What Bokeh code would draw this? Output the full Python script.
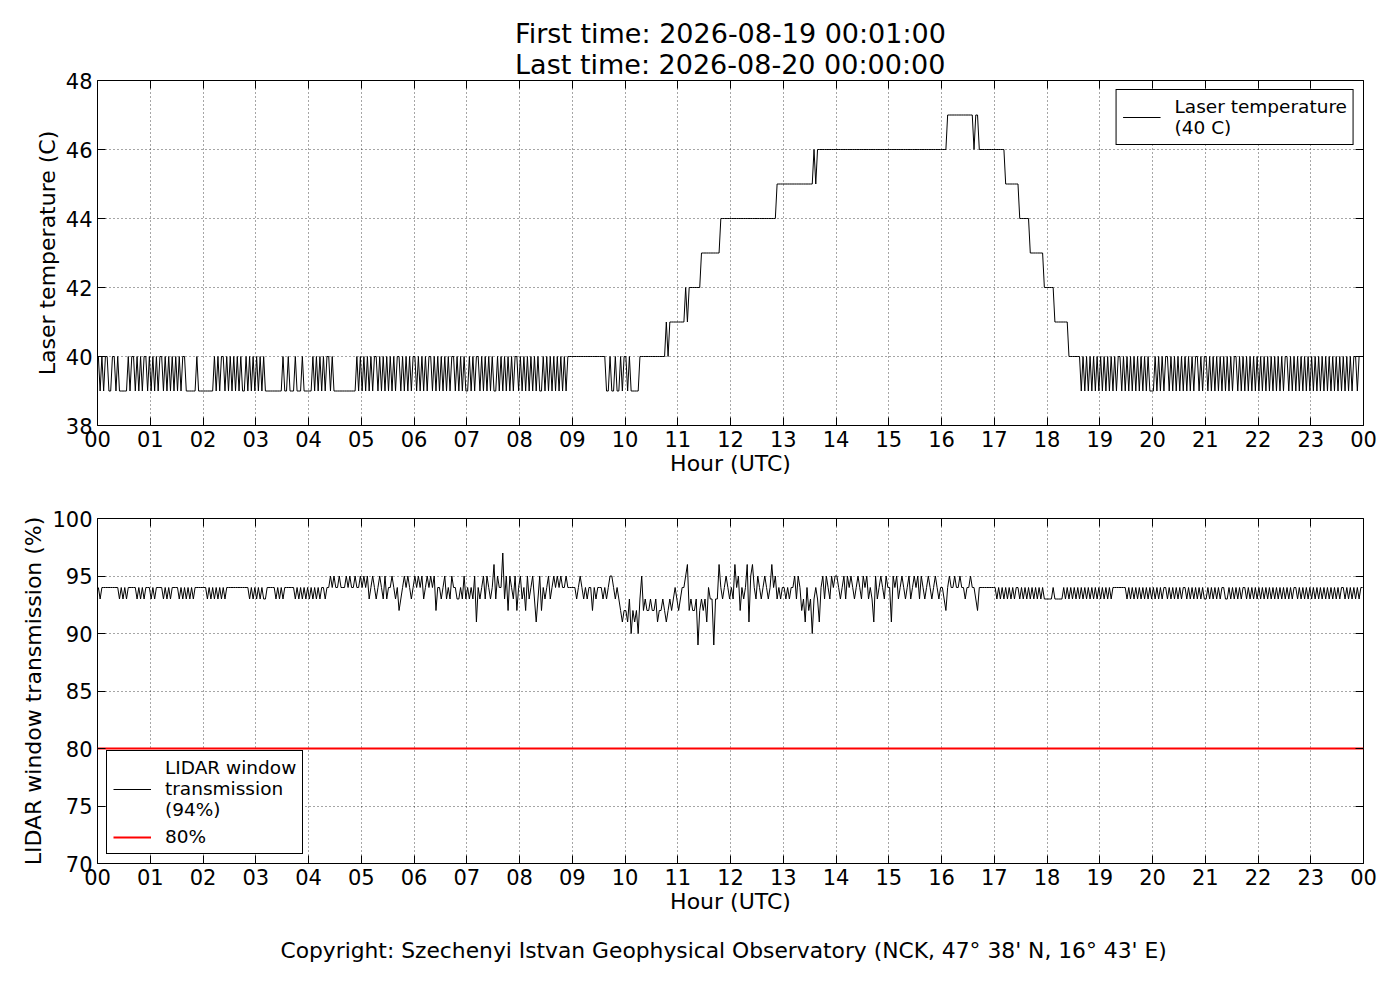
import numpy as np
from bokeh.plotting import figure
from bokeh.models import Range1d, FixedTicker, LinearAxis, Legend, LegendItem, Title
from bokeh.layouts import column
from bokeh.embed import file_html
from bokeh.resources import INLINE

# ---------------- data ----------------
FIRST_TIME = "2026-08-19 00:01:00"
LAST_TIME = "2026-08-20 00:00:00"
HOUR_TICKS = list(range(25))
HOUR_LABELS = ["%02d" % (h % 24) for h in HOUR_TICKS]
TEMP_TICKS = [38, 40, 42, 44, 46, 48]
TRANS_TICKS = [70, 75, 80, 85, 90, 95, 100]
TEMP_RANGE = (38, 48)
TRANS_RANGE = (70, 100)
TRANS_THRESHOLD = 80
LASER_SETPOINT = 40
WINDOW_MEAN = 94
COPYRIGHT = "Copyright: Szechenyi Istvan Geophysical Observatory (NCK, 47\u00b0  38' N, 16\u00b0  43' E)"

# Laser temperature, one code per 2-minute sample, one string per hour
# '9' = 39 C, '0'..'7' = 40..47 C
LASER_TEMP_CODES = [
    "09090 09900 90999 99090 09090 90090",  # 00
    "90909 00909 09090 90900 99999 90999",  # 01
    "99999 90909 00909 09090 90990 90909",  # 02
    "09090 99999 99999 09909 99099 90999",  # 03
    "99090 90909 00909 99999 99999 99090",  # 04
    "90909 09009 09090 90909 00909 09090",  # 05
    "09090 90900 90909 09090 90090 90909",  # 06
    "90909 00909 09090 99090 90909 09009",  # 07
    "09090 90909 09909 09090 90909 09000",  # 08
    "00000 00000 00000 00009 90990 99090",  # 09
    "09099 99900 00000 00000 00010 11111",  # 10
    "11112 12222 22233 33333 33334 44444",  # 11
    "44444 44444 44444 44444 44444 45555",  # 12
    "55555 55555 55555 55656 66666 66666",  # 13
    "66666 66666 66666 66666 66666 66666",  # 14
    "66666 66666 66666 66666 66666 66666",  # 15
    "66677 77777 77777 77767 76666 66666",  # 16
    "66666 65555 55554 44444 33333 33322",  # 17
    "22221 11111 11000 00009 09090 90909",  # 18
    "09090 90909 00909 09090 90909 09099",  # 19
    "90909 09009 09090 90909 09090 09090",  # 20
    "09090 90909 09090 90090 90909 09090",  # 21
    "90909 09090 90909 00909 09090 90909",  # 22
    "09090 90909 09090 90909 09090 09000",  # 23
]

# LIDAR window transmission, one code per 2-minute sample, one string per hour
# '0'..'9' = 90..99 %, 'x' = 89 %
TRANS_CODES = [
    "43444 44444 44343 43444 44343 43444",  # 00
    "34344 44343 43444 43434 34343 44444",  # 01
    "44343 43434 34344 44444 44444 43434",  # 02
    "34343 34444 43434 34444 44343 43434",  # 03
    "34343 43443 44545 44544 45454 45445",  # 04
    "45453 45434 54353 44543 42345 45434",  # 05
    "54545 34545 45244 34534 35443 34353",  # 06
    "43435 14345 35434 63544 73525 43524",  # 07
    "53425 34531 35243 45345 45454 45444",  # 08
    "44345 43434 42434 44343 45543 43212",  # 09
    "21302 12035 23223 22312 23212 32343",  # 10
    "23445 62322 3x232 31433 x3364 34543",  # 11
    "43645 24346 15643 54345 43464 53434",  # 12
    "43434 45354 23142 30343 14535 43545",  # 13
    "54345 35454 34543 54534 31534 54354",  # 14
    "41545 34543 45345 45354 34543 45434",  # 15
    "43245 44544 54434 45443 24444 44444",  # 16
    "43434 34343 43443 43434 34343 43433",  # 17
    "33343 33334 34343 43434 34343 43434",  # 18
    "34343 43444 44444 34343 43434 34343",  # 19
    "43434 34434 34343 43443 43434 34343",  # 20
    "34343 43434 43343 43434 34434 34343",  # 21
    "43434 34343 43434 34343 44343 43434",  # 22
    "34343 43434 34343 43443 43434 34344",  # 23
]


def decode_hours(codes, mapper):
    xs, ys = [], []
    for h, code in enumerate(codes):
        s = code.replace(" ", "")
        n = len(s)
        for i, c in enumerate(s):
            xs.append(h + (60.0 / n * i + 60.0 / n / 2.0) / 60.0)
            ys.append(mapper(c))
    return xs, ys


temp_x, temp_y = decode_hours(LASER_TEMP_CODES, lambda c: 39 if c == "9" else 40 + int(c))
trans_x, trans_y = decode_hours(TRANS_CODES, lambda c: 89 if c == "x" else 90 + int(c))

# ---------------- styling ----------------
FONT = "DejaVu Sans"
W = 1384
TICK_FS = "21px"
LABEL_FS = "22px"


def base_fig(height, top, bottom, yr, yticks, ylabel):
    p = figure(width=W, height=height, x_range=Range1d(HOUR_TICKS[0], HOUR_TICKS[-1]),
               y_range=Range1d(*yr), output_backend="svg", toolbar_location=None,
               min_border_left=97, min_border_right=21,
               min_border_top=top, min_border_bottom=bottom)
    p.background_fill_color = "white"
    p.border_fill_color = "white"
    p.outline_line_color = "black"
    p.outline_line_alpha = 1.0
    p.outline_line_width = 1
    p.xaxis.ticker = FixedTicker(ticks=HOUR_TICKS)
    p.yaxis.ticker = FixedTicker(ticks=yticks)
    p.xaxis.major_label_overrides = dict(zip(HOUR_TICKS, HOUR_LABELS))
    p.xaxis.axis_label = "Hour (UTC)"
    p.yaxis.axis_label = ylabel
    for ax in (p.xaxis[0], p.yaxis[0]):
        ax.major_tick_in = 8
        ax.major_tick_out = 0
        ax.major_tick_line_color = "black"
        ax.minor_tick_line_color = None
        ax.axis_line_color = None
        ax.major_label_text_font = FONT
        ax.major_label_text_font_size = TICK_FS
        ax.major_label_text_color = "black"
        ax.major_label_standoff = 5
        ax.axis_label_text_font = FONT
        ax.axis_label_text_font_size = LABEL_FS
        ax.axis_label_text_font_style = "normal"
        ax.axis_label_text_color = "black"
    p.xaxis[0].axis_label_standoff = 1
    p.yaxis[0].axis_label_standoff = 3
    for loc, ticks in (("above", HOUR_TICKS), ("right", yticks)):
        ax = LinearAxis(ticker=FixedTicker(ticks=ticks))
        ax.major_label_overrides = {t: "" for t in ticks}
        ax.major_label_standoff = 0
        ax.major_tick_in = 8
        ax.major_tick_out = 0
        ax.major_tick_line_color = "black"
        ax.minor_tick_line_color = None
        ax.axis_line_color = None
        p.add_layout(ax, loc)
    p.grid.grid_line_color = "black"
    p.grid.grid_line_alpha = 0.7
    p.grid.grid_line_dash = "1 3"
    p.grid.grid_line_width = 1
    return p


def style_legend(leg):
    leg.label_text_font = FONT
    leg.label_text_font_size = "18.5px"
    leg.label_text_color = "black"
    leg.border_line_color = "black"
    leg.border_line_width = 1
    leg.border_line_alpha = 1.0
    leg.background_fill_color = "white"
    leg.background_fill_alpha = 1.0
    leg.padding = 6
    leg.margin = 9
    leg.glyph_width = 38
    leg.label_standoff = 14
    leg.spacing = 6


# top panel
p1 = base_fig(490, 80, 65, TEMP_RANGE, TEMP_TICKS, "Laser temperature (C)")
p1.title.text = "First time: %s\nLast time: %s" % (FIRST_TIME, LAST_TIME)
p1.title.align = "center"
p1.title.text_font = FONT
p1.title.text_font_size = "27px"
p1.title.text_font_style = "normal"
p1.title.text_color = "black"
p1.title.standoff = 1
r_temp = p1.line(temp_x, temp_y, line_color="black", line_width=1)
leg1 = Legend(items=[LegendItem(label="Laser temperature\n(%d C)" % LASER_SETPOINT, renderers=[r_temp])],
              location="top_right")
style_legend(leg1)
p1.add_layout(leg1)

# bottom panel
p2 = base_fig(500, 28, 127, TRANS_RANGE, TRANS_TICKS, "LIDAR window transmission (%)")
r_trans = p2.line(trans_x, trans_y, line_color="black", line_width=1)
r_thr = p2.line([HOUR_TICKS[0], HOUR_TICKS[-1]], [TRANS_THRESHOLD, TRANS_THRESHOLD],
                line_color="red", line_width=2)
leg2 = Legend(items=[LegendItem(label="LIDAR window\ntransmission\n(%d%%)" % WINDOW_MEAN, renderers=[r_trans]),
                     LegendItem(label="%d%%" % TRANS_THRESHOLD, renderers=[r_thr])],
              location="bottom_left")
style_legend(leg2)
p2.add_layout(leg2)

foot = Title(text=COPYRIGHT, align="center", text_font=FONT, text_font_size="21.8px",
             text_font_style="normal", text_color="black", standoff=38)
p2.add_layout(foot, "below")

layout = column(p1, p2)
open("out.html", "w").write(file_html(layout, INLINE))
